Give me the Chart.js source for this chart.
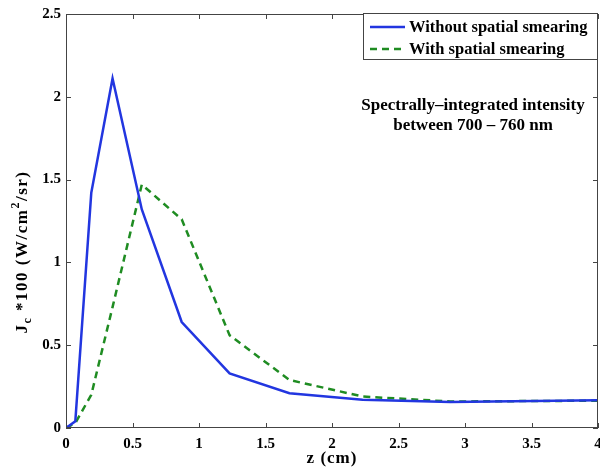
<!DOCTYPE html>
<html>
<head>
<meta charset="utf-8">
<script src="https://cdn.jsdelivr.net/npm/chart.js@4.4.0/dist/chart.umd.min.js"></script>
<style>
  html, body { margin: 0; padding: 0; background: #fff; overflow: hidden; }
  #wrap { position: relative; width: 612px; height: 469px; }
</style>
</head>
<body>
<div id="wrap"><canvas id="c"></canvas></div>
<script>
// ---- data ----
const zValues          = [0, 0.07, 0.19, 0.35, 0.57, 0.87, 1.23, 1.68, 2.23, 2.89, 4.0];
const withoutSmearing  = [0, 0.04, 1.42, 2.11, 1.32, 0.64, 0.33, 0.21, 0.17, 0.157, 0.167];
const withSmearing     = [0, 0.03, 0.20, 0.73, 1.47, 1.26, 0.56, 0.29, 0.19, 0.16, 0.165];
const seriesLabels     = ['Without spatial smearing', 'With spatial smearing'];
const xTicks           = [0, 0.5, 1, 1.5, 2, 2.5, 3, 3.5, 4];
const yTicks           = [0, 0.5, 1, 1.5, 2, 2.5];
const xTitle           = 'z (cm)';
const noteLines        = ['Spectrally\u2013integrated intensity', 'between 700 \u2013 760 nm'];

const SERIF = '"Liberation Serif", "Times New Roman", serif';
const BLUE = '#2236e0';
const GREEN = '#1f8c22';

function pts(xs, ys) { return xs.map((x, i) => ({ x: x, y: ys[i] })); }

const frame = {
  id: 'frame',
  afterDraw(chart) {
    const ctx = chart.ctx, a = chart.chartArea;
    const xs = chart.scales.x, ys = chart.scales.y;
    ctx.save();
    // box
    ctx.strokeStyle = '#444';
    ctx.lineWidth = 1;
    ctx.strokeRect(a.left + 0.5, a.top + 0.5, a.right - a.left - 1, a.bottom - a.top - 1);
    // inward ticks on all sides
    const tl = 5;
    ctx.beginPath();
    xTicks.forEach(v => {
      const px = Math.round(xs.getPixelForValue(v)) + 0.5;
      ctx.moveTo(px, a.bottom); ctx.lineTo(px, a.bottom - tl);
      ctx.moveTo(px, a.top); ctx.lineTo(px, a.top + tl);
    });
    yTicks.forEach(v => {
      const py = Math.round(ys.getPixelForValue(v)) + 0.5;
      ctx.moveTo(a.left, py); ctx.lineTo(a.left + tl, py);
      ctx.moveTo(a.right, py); ctx.lineTo(a.right - tl, py);
    });
    ctx.stroke();

    // legend
    const lx = 363, ly = 13, lw = 234, lh = 46;
    ctx.fillStyle = '#fff';
    ctx.fillRect(lx, ly, lw, lh);
    ctx.strokeStyle = '#444';
    ctx.strokeRect(lx + 0.5, ly + 0.5, lw, lh);
    ctx.font = 'bold 16.5px ' + SERIF;
    ctx.textBaseline = 'middle';
    ctx.textAlign = 'left';
    chart.data.datasets.forEach((ds, i) => {
      const yy = ly + 14 + i * 22;
      ctx.strokeStyle = ds.borderColor;
      ctx.lineWidth = 2.5;
      ctx.setLineDash(ds.borderDash || []);
      ctx.beginPath();
      ctx.moveTo(370, yy); ctx.lineTo(405, yy);
      ctx.stroke();
      ctx.setLineDash([]);
      ctx.fillStyle = '#000';
      ctx.fillText(ds.label, 409, yy + 1);
    });

    // annotation
    ctx.textAlign = 'center';
    ctx.fillStyle = '#000';
    ctx.font = 'bold 17px ' + SERIF;
    ctx.fillText(noteLines[0], 473, 106);
    ctx.fillText(noteLines[1], 473, 126);

    // x-axis title
    ctx.font = 'bold 17px ' + SERIF;
    ctx.letterSpacing = '1px';
    ctx.fillText(xTitle, (a.left + a.right) / 2, 459);

    // y-axis title with sub/superscripts
    ctx.translate(21, 252);
    ctx.rotate(-Math.PI / 2);
    ctx.textAlign = 'left';
    ctx.textBaseline = 'alphabetic';
    ctx.letterSpacing = '1.5px';
    const parts = [
      { t: 'J', f: 'bold 17px ', dy: 0 },
      { t: 'c', f: 'bold 12px ', dy: 4 },
      { t: ' *100 (W/cm', f: 'bold 17px ', dy: 0 },
      { t: '2', f: 'bold 12px ', dy: -8 },
      { t: '/sr)', f: 'bold 17px ', dy: 0 }
    ];
    let total = 0;
    parts.forEach(p => { ctx.font = p.f + SERIF; total += ctx.measureText(p.t).width; });
    let cx = -total / 2;
    parts.forEach(p => {
      ctx.font = p.f + SERIF;
      ctx.fillText(p.t, cx, 6 + p.dy);
      cx += ctx.measureText(p.t).width;
    });
    ctx.restore();
  }
};

const bg = {
  id: 'bg',
  beforeDraw(chart) {
    const ctx = chart.ctx;
    ctx.save();
    ctx.fillStyle = '#fff';
    ctx.fillRect(0, 0, chart.width, chart.height);
    ctx.restore();
  }
};

new Chart(document.getElementById('c'), {
  type: 'line',
  data: {
    datasets: [
      { label: seriesLabels[0], data: pts(zValues, withoutSmearing), borderColor: BLUE,
        borderWidth: 2.5, pointRadius: 0, tension: 0, fill: false },
      { label: seriesLabels[1], data: pts(zValues, withSmearing), borderColor: GREEN,
        borderWidth: 2.5, borderDash: [7, 5], pointRadius: 0, tension: 0, fill: false }
    ]
  },
  options: {
    responsive: true,
    maintainAspectRatio: false,
    animation: false,
    events: [],
    layout: { padding: { top: 8, right: 14, left: 0, bottom: 0 } },
    plugins: { legend: { display: false }, tooltip: { enabled: false } },
    scales: {
      x: {
        type: 'linear', min: 0, max: 4,
        afterBuildTicks(s) { s.ticks = xTicks.map(v => ({ value: v })); },
        afterFit(s) { s.height = 41; },
        grid: { display: false, drawTicks: false },
        border: { display: false },
        ticks: { color: '#000', font: { family: SERIF, size: 15, weight: 'bold' }, padding: 7, maxRotation: 0, autoSkip: false,
                 callback: v => String(v) }
      },
      y: {
        type: 'linear', min: 0, max: 2.5,
        afterBuildTicks(s) { s.ticks = yTicks.map(v => ({ value: v })); },
        afterFit(s) { s.width = 66; },
        grid: { display: false, drawTicks: false },
        border: { display: false },
        ticks: { color: '#000', font: { family: SERIF, size: 15, weight: 'bold' }, padding: 5, autoSkip: false,
                 callback: v => String(v) }
      }
    }
  },
  plugins: [bg, frame]
});
</script>
</body>
</html>
